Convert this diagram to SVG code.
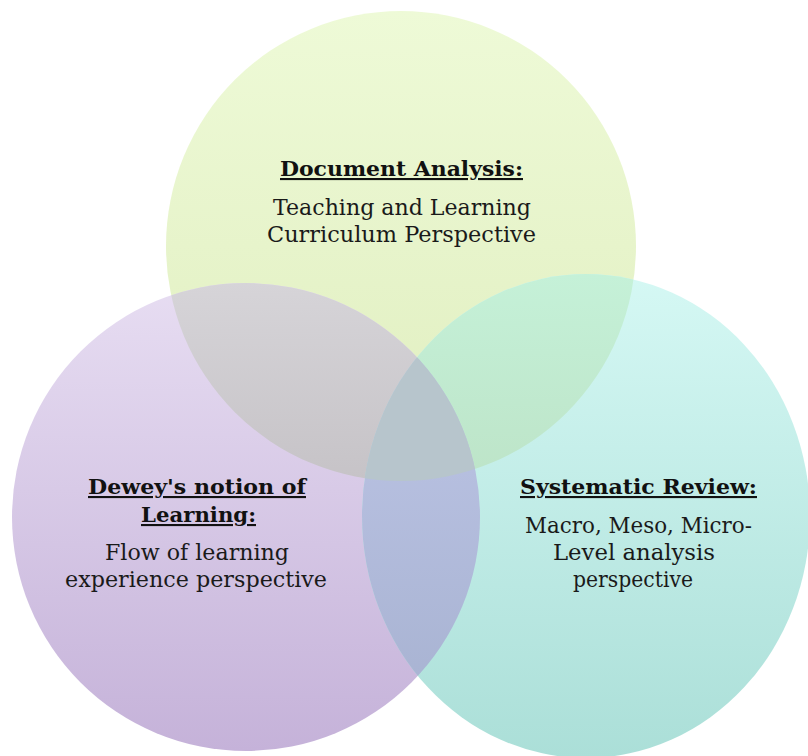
<svg xmlns="http://www.w3.org/2000/svg" width="808" height="756" viewBox="0 0 808 756">
<style>
  .title { font-family: "DejaVu Serif", "Liberation Serif", serif; font-weight: bold; font-size: 21px; fill: #111; text-decoration: underline; }
  .body { font-family: "DejaVu Serif", "Liberation Serif", serif; font-size: 21.5px; fill: #1a1a1a; }
</style>
<defs>
  <linearGradient id="gTop" gradientUnits="userSpaceOnUse" x1="0" y1="11" x2="0" y2="481">
    <stop offset="0" stop-color="#eefad7"/><stop offset="1" stop-color="#e0eebf"/>
  </linearGradient>
  <linearGradient id="gLeft" gradientUnits="userSpaceOnUse" x1="0" y1="283" x2="0" y2="751">
    <stop offset="0" stop-color="#e7ddf2"/><stop offset="1" stop-color="#c5b2d9"/>
  </linearGradient>
  <linearGradient id="gRight" gradientUnits="userSpaceOnUse" x1="0" y1="274" x2="0" y2="758">
    <stop offset="0" stop-color="#d5f8f4"/><stop offset="1" stop-color="#abdfd8"/>
  </linearGradient>
  <linearGradient id="gTL" gradientUnits="userSpaceOnUse" x1="0" y1="283" x2="0" y2="481">
    <stop offset="0" stop-color="#d6d4d8"/><stop offset="1" stop-color="#c6c3c7"/>
  </linearGradient>
  <linearGradient id="gTR" gradientUnits="userSpaceOnUse" x1="0" y1="274" x2="0" y2="481">
    <stop offset="0" stop-color="#c5f1d8"/><stop offset="1" stop-color="#bde4c8"/>
  </linearGradient>
  <linearGradient id="gLR" gradientUnits="userSpaceOnUse" x1="0" y1="370" x2="0" y2="700">
    <stop offset="0" stop-color="#bcc4e5"/><stop offset="1" stop-color="#a8b3d2"/>
  </linearGradient>
  <clipPath id="cTop"><circle cx="401" cy="246" r="235"/></clipPath>
  <clipPath id="cLeft"><circle cx="246" cy="517" r="234"/></clipPath>
  <clipPath id="cRight"><ellipse cx="586" cy="516" rx="224" ry="242"/></clipPath>
</defs>
<rect width="808" height="756" fill="#ffffff"/>

<g id="node-document-analysis">
  <circle cx="401" cy="246" r="235" fill="url(#gTop)"/>
  <text class="title" x="401.5" y="176" text-anchor="middle" textLength="243" lengthAdjust="spacingAndGlyphs">Document Analysis:</text>
  <text class="body" x="402" y="215" text-anchor="middle" textLength="258" lengthAdjust="spacingAndGlyphs">Teaching and Learning</text>
  <text class="body" x="401.5" y="242" text-anchor="middle" textLength="269" lengthAdjust="spacingAndGlyphs">Curriculum Perspective</text>
</g>

<g id="node-dewey">
  <circle cx="246" cy="517" r="234" fill="url(#gLeft)"/>
  <text class="title" x="197" y="494" text-anchor="middle" textLength="218" lengthAdjust="spacingAndGlyphs">Dewey's notion of</text>
  <text class="title" x="198.5" y="522" text-anchor="middle" textLength="115" lengthAdjust="spacingAndGlyphs">Learning:</text>
  <text class="body" x="197" y="560" text-anchor="middle" textLength="184" lengthAdjust="spacingAndGlyphs">Flow of learning</text>
  <text class="body" x="196" y="587" text-anchor="middle" textLength="262" lengthAdjust="spacingAndGlyphs">experience perspective</text>
</g>

<g id="node-systematic-review">
  <ellipse cx="586" cy="516" rx="224" ry="242" fill="url(#gRight)"/>
  <text class="title" x="638.5" y="494" text-anchor="middle" textLength="237" lengthAdjust="spacingAndGlyphs">Systematic Review:</text>
  <text class="body" x="638.5" y="533" text-anchor="middle" textLength="227" lengthAdjust="spacingAndGlyphs">Macro, Meso, Micro-</text>
  <text class="body" x="634" y="560" text-anchor="middle" textLength="162" lengthAdjust="spacingAndGlyphs">Level analysis</text>
  <text class="body" x="633" y="587" text-anchor="middle" textLength="120" lengthAdjust="spacingAndGlyphs">perspective</text>
</g>

<g id="overlaps">
  <g clip-path="url(#cTop)">
    <circle cx="246" cy="517" r="234" fill="url(#gTL)"/>
    <ellipse cx="586" cy="516" rx="224" ry="242" fill="url(#gTR)"/>
  </g>
  <g clip-path="url(#cLeft)">
    <ellipse cx="586" cy="516" rx="224" ry="242" fill="url(#gLR)"/>
  </g>
  <g clip-path="url(#cTop)">
    <g clip-path="url(#cLeft)">
      <ellipse cx="586" cy="516" rx="224" ry="242" fill="#b7c5cc"/>
    </g>
  </g>
</g>
</svg>
